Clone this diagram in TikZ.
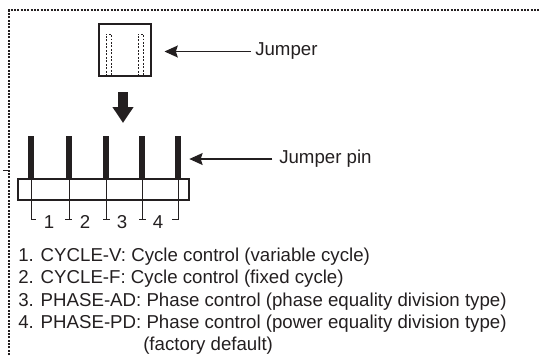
\documentclass[tikz,border=0pt]{standalone}
\usepackage{fontspec}
\setmainfont{Liberation Sans}
\usetikzlibrary{arrows.meta}
\definecolor{ink}{HTML}{231F20}
\begin{document}
\begin{tikzpicture}[
  x=0.75pt, y=-0.75pt,
  frame/.style={line width=1.5pt, ink, dash pattern=on 1.4pt off 1.1pt},
  jumper/.style={rectangle, draw=ink, line width=1.5pt, minimum width=39pt, minimum height=38.5pt, inner sep=0pt},
  hidden/.style={line width=0.6pt, ink, dash pattern=on 1.4pt off 1.2pt},
  pin/.style={rectangle, fill=ink, minimum width=4.6pt, minimum height=32pt, inner sep=0pt},
  base/.style={rectangle, draw=ink, line width=1.4pt, minimum width=128pt, minimum height=16pt, inner sep=0pt},
  bigarr/.style={-{Triangle[length=12pt,width=15pt]}, line width=7.5pt, ink},
  arr/.style={-{Stealth[length=10pt,width=9pt,inset=1.5pt]}, line width=0.8pt, ink},
  brk/.style={line width=0.6pt, ink},
  lbl/.style={anchor=west, inner sep=0pt, text=ink, font=\fontsize{14}{16}\selectfont},
  num/.style={inner sep=0pt, text=ink, font=\fontsize{14}{16}\selectfont},
]
\useasboundingbox (0,0) rectangle (539,355);

% Outer frame
\coordinate (FL) at (9,355);
\coordinate (FC) at (9,10);
\coordinate (FR) at (539,10);
\coordinate (FT) at (3,170);
\coordinate (FM) at (9,170);
\draw[frame] (FL) -- (FC) -- (FR);
\draw[line width=0.7pt, ink] (FT) -- (FM);

% Jumper
\node[jumper] (J) at (124.5,50) {};
\coordinate (H1) at (106,34);
\coordinate (H2) at (111.5,76);
\coordinate (H3) at (138,34);
\coordinate (H4) at (143.5,76);
\draw[hidden] (H1 |- H2) -- (H1) -- (H2 |- H1) -- (H2);
\draw[hidden] (H3 |- H4) -- (H3) -- (H4 |- H3) -- (H4);
\node[lbl] (JL) at (255,51.5) {Jumper};
\draw[arr, shorten <=3pt, shorten >=9.75pt] (JL.west) -- (J.east |- JL.west);

% Arrow down to the pins
\coordinate (A1) at (123,92);
\coordinate (A2) at (123,123);
\draw[bigarr] (A1) -- (A2);

% Base and pins
\node[base] (B) at (103.5,189.5) {};
\node[pin] (P1) at (31,157.5) {};
\node[pin] (P2) at (69,157.5) {};
\node[pin] (P3) at (106,157.5) {};
\node[pin] (P4) at (142,157.5) {};
\node[pin] (P5) at (178,157.5) {};
\node[lbl] (PL) at (279,159) {Jumper pin};
\draw[arr, shorten <=5pt, shorten >=6pt] (PL.west) -- (P5.east |- PL.west);

% Brackets under the pins
\foreach \i/\a/\b in {1/31/36, 2/65/72, 3/103/110, 4/139/146, 5/172/178} {
  \coordinate (T\i) at (\a,219.5);
  \coordinate (U\i) at (\b,219.5);
}
\draw[brk] (P1.south) -- (P1.south |- T1) -- (U1);
\draw[brk] (P2.south) -- (P2.south |- T2);
\draw[brk] (T2) -- (U2);
\draw[brk] (P3.south) -- (P3.south |- T3);
\draw[brk] (T3) -- (U3);
\draw[brk] (P4.south) -- (P4.south |- T4);
\draw[brk] (T4) -- (U4);
\draw[brk] (P5.south) -- (P5.south |- T5) -- (T5);

\node[num] (N1) at (49,222) {1};
\node[num] (N2) at (85,222) {2};
\node[num] (N3) at (122,222) {3};
\node[num] (N4) at (158,222) {4};

% Jumper settings
\node[lbl] (S1) at (18,256.5) {1. CYCLE-V: Cycle control (variable cycle)};
\node[lbl] (S2) at (18,279) {2. CYCLE-F: Cycle control (fixed cycle)};
\node[lbl] (S3) at (18,301.5) {3. PHASE-AD: Phase control (phase equality division type)};
\node[lbl] (S4) at (18,323.5) {4. PHASE-PD: Phase control (power equality division type)};
\node[lbl] (S5) at (143,345.5) {(factory default)};

\end{tikzpicture}
\end{document}
